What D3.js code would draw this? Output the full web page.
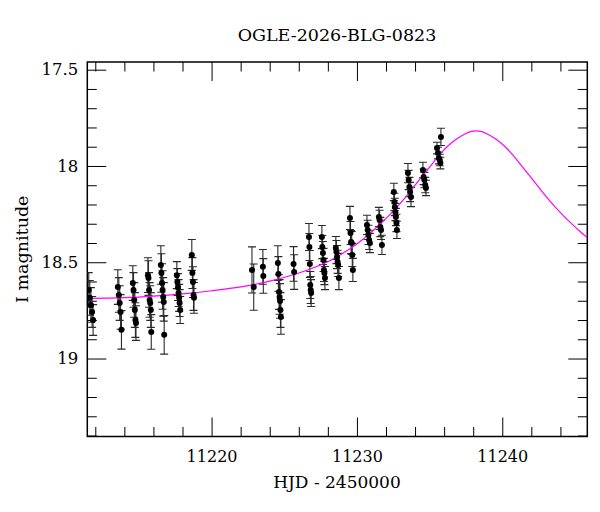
<!DOCTYPE html>
<html lang="en">
<head>
    <meta charset="UTF-8">
    <title>OGLE-2026-BLG-0823</title>
    <script src="https://d3js.org/d3.v7.min.js"></script>
    <style>
        body {
            margin: 0;
            padding: 0;
            background: #fff;
        }
        text {
            font-family: "DejaVu Serif", serif;
            fill: #000;
        }
    </style>
</head>
<body>
    <svg width="600" height="512"></svg>

    <script>
        // observations: HJD - 2450000, I magnitude, error
        const hjd = [
            11211.55, 11211.62, 11211.70, 11211.78, 11211.85,
            11213.55, 11213.62, 11213.68, 11213.74, 11213.80,
            11214.58, 11214.63, 11214.68, 11214.72, 11214.76, 11214.80,
            11215.62, 11215.66, 11215.70, 11215.74, 11215.78, 11215.82, 11215.85,
            11216.51, 11216.55, 11216.59, 11216.63, 11216.67, 11216.71, 11216.74,
            11217.61, 11217.65, 11217.69, 11217.73, 11217.77, 11217.80, 11217.84,
            11218.64, 11218.68, 11218.72, 11218.76, 11218.79,
            11222.78, 11222.90,
            11223.53, 11223.56,
            11224.56, 11224.60, 11224.64, 11224.68, 11224.71, 11224.74, 11224.77,
            11225.64, 11225.68,
            11226.70, 11226.73, 11226.76, 11226.79, 11226.82, 11226.85,
            11227.59, 11227.62, 11227.66, 11227.70, 11227.73, 11227.76, 11227.80,
            11228.55, 11228.59, 11228.63, 11228.67, 11228.71, 11228.76,
            11229.52, 11229.56, 11229.60, 11229.64, 11229.68, 11229.72,
            11230.69, 11230.74, 11230.79, 11230.84, 11230.89,
            11231.51, 11231.56, 11231.61, 11231.66, 11231.72,
            11232.54, 11232.58, 11232.61, 11232.65, 11232.68, 11232.72, 11232.75,
            11233.51, 11233.56, 11233.61, 11233.66, 11233.72,
            11234.54, 11234.59, 11234.64, 11234.70, 11234.75,
            11235.78, 11235.51, 11235.58, 11235.64, 11235.70, 11235.74
        ];
        const mag = [
            18.644, 18.685, 18.722, 18.758, 18.800,
            18.629, 18.670, 18.712, 18.758, 18.851,
            18.608, 18.644, 18.696, 18.748, 18.800, 18.816,
            18.567, 18.582, 18.644, 18.696, 18.712, 18.748, 18.862,
            18.514, 18.556, 18.608, 18.644, 18.680, 18.706, 18.877,
            18.567, 18.603, 18.629, 18.660, 18.685, 18.712, 18.748,
            18.462, 18.556, 18.603, 18.670, 18.685,
            18.540, 18.629,
            18.524, 18.571,
            18.504, 18.561, 18.655, 18.680, 18.701, 18.748, 18.784,
            18.509, 18.551,
            18.369, 18.421, 18.509, 18.618, 18.644, 18.660,
            18.369, 18.421, 18.452, 18.488, 18.540, 18.556, 18.582,
            18.426, 18.447, 18.473, 18.498, 18.514, 18.582,
            18.270, 18.348, 18.395, 18.400, 18.462, 18.540,
            18.306, 18.332, 18.358, 18.384, 18.400,
            18.265, 18.280, 18.317, 18.332, 18.410,
            18.135, 18.187, 18.213, 18.239, 18.265, 18.296, 18.332,
            18.037, 18.073, 18.109, 18.135, 18.161,
            18.021, 18.057, 18.073, 18.099, 18.114,
            17.849, 17.907, 17.933, 17.959, 17.969, 17.985
        ];
        const err = [
            0.09, 0.09, 0.09, 0.08, 0.08,
            0.09, 0.09, 0.09, 0.09, 0.10,
            0.09, 0.09, 0.09, 0.09, 0.09, 0.09,
            0.09, 0.09, 0.09, 0.09, 0.09, 0.09, 0.09,
            0.10, 0.10, 0.10, 0.10, 0.10, 0.10, 0.10,
            0.07, 0.07, 0.07, 0.07, 0.07, 0.07, 0.07,
            0.08, 0.08, 0.08, 0.08, 0.08,
            0.12, 0.12,
            0.09, 0.09,
            0.09, 0.09, 0.09, 0.09, 0.09, 0.09, 0.09,
            0.09, 0.09,
            0.07, 0.07, 0.07, 0.07, 0.07, 0.07,
            0.06, 0.06, 0.06, 0.06, 0.06, 0.06, 0.06,
            0.06, 0.06, 0.06, 0.06, 0.06, 0.06,
            0.06, 0.06, 0.06, 0.06, 0.06, 0.06,
            0.05, 0.05, 0.05, 0.05, 0.05,
            0.05, 0.05, 0.05, 0.05, 0.05,
            0.045, 0.045, 0.045, 0.045, 0.045, 0.045, 0.045,
            0.05, 0.05, 0.05, 0.05, 0.05,
            0.04, 0.04, 0.04, 0.04, 0.04,
            0.045, 0.03, 0.03, 0.03, 0.03, 0.03
        ];

        // model curve
        const modelT = [11211.45, 11214, 11216, 11218, 11220, 11222, 11224, 11226, 11228, 11229,
            11230, 11230.55, 11231.05, 11231.6, 11232.2, 11232.8, 11233.35, 11233.9, 11234.5,
            11235.1, 11235.65, 11236.2, 11236.8, 11237.4, 11237.8, 11238.2, 11238.6, 11239,
            11239.6, 11240.2, 11240.75, 11241.3, 11241.9, 11242.5, 11243.05, 11243.6, 11244.2,
            11244.8, 11245.35, 11245.85];
        const modelMag = [18.688, 18.684, 18.676, 18.664, 18.648, 18.628, 18.598, 18.556, 18.497, 18.455,
            18.405, 18.372, 18.340, 18.302, 18.258, 18.210, 18.162, 18.110, 18.053,
            17.997, 17.945, 17.900, 17.862, 17.835, 17.822, 17.818, 17.822, 17.835,
            17.862, 17.900, 17.945, 17.997, 18.053, 18.110, 18.162, 18.210, 18.258,
            18.302, 18.340, 18.372];

        const xMajor = [11220, 11230, 11240];
        const yMajor = [17.5, 18, 18.5, 19];

        const pL = 87.3, pR = 587.3, pT = 62, pB = 436.5;

        const svg = d3.select("svg");

        const x = d3.scaleLinear().domain([11211.45, 11245.85]).range([pL, pR]);
        const y = d3.scaleLinear().domain([17.46, 19.405]).range([pT, pB]);

        svg.append("defs").append("clipPath").attr("id", "plot")
            .append("rect")
            .attr("x", pL).attr("y", pT)
            .attr("width", pR - pL).attr("height", pB - pT);

        // ticks on all four sides, pointing inward
        const xMinor = d3.range(11212, 11246, 2).filter(d => !xMajor.includes(d));
        const yMinor = d3.range(17.5, 19.41, 0.1).map(d => +d.toFixed(1)).filter(d => !yMajor.includes(d));

        function drawAxis(a, values, len, labels) {
            const g = svg.append("g")
                .attr("transform", a.t)
                .call(a.gen(a.scale).tickValues(values).tickSize(-len).tickFormat(labels ? d3.format("") : () => ""));
            g.select(".domain").remove();
            g.selectAll(".tick line").attr("stroke", "#000").attr("stroke-width", 1);
            g.attr("font-family", null).attr("font-size", null);
            if (labels && a.side === "bottom") {
                g.selectAll(".tick text").attr("y", 14).attr("font-size", 16);
            }
            if (labels && a.side === "left") {
                g.selectAll(".tick text").attr("x", -9).attr("font-size", 16.5);
            }
        }

        const axes = [
            { side: "bottom", gen: d3.axisBottom, scale: x, t: `translate(0,${pB})`, major: xMajor, minor: xMinor },
            { side: "top", gen: d3.axisTop, scale: x, t: `translate(0,${pT})`, major: xMajor, minor: xMinor },
            { side: "left", gen: d3.axisLeft, scale: y, t: `translate(${pL},0)`, major: yMajor, minor: yMinor },
            { side: "right", gen: d3.axisRight, scale: y, t: `translate(${pR},0)`, major: yMajor, minor: yMinor }
        ];
        axes.forEach(a => {
            const lab = a.side === "bottom" || a.side === "left";
            drawAxis(a, a.minor, 9.5, false);
            drawAxis(a, a.major, 19, lab);
        });

        // frame
        svg.append("rect")
            .attr("x", pL).attr("y", pT)
            .attr("width", pR - pL).attr("height", pB - pT)
            .attr("fill", "none").attr("stroke", "#000").attr("stroke-width", 1.5);

        const pts = hjd.map((t, i) => ({ t: t, m: mag[i], e: err[i] }));

        const plot = svg.append("g").attr("clip-path", "url(#plot)");

        // error bars
        const eb = plot.append("g").attr("stroke", "#2a2a2a").attr("stroke-width", 1.1);
        eb.selectAll("line.bar").data(pts).enter().append("line")
            .attr("class", "bar")
            .attr("x1", d => x(d.t)).attr("x2", d => x(d.t))
            .attr("y1", d => y(d.m - d.e)).attr("y2", d => y(d.m + d.e));
        ["hi", "lo"].forEach(k => {
            eb.selectAll("line.cap" + k).data(pts).enter().append("line")
                .attr("class", "cap" + k)
                .attr("x1", d => x(d.t) - 4).attr("x2", d => x(d.t) + 4)
                .attr("y1", d => y(k === "hi" ? d.m - d.e : d.m + d.e))
                .attr("y2", d => y(k === "hi" ? d.m - d.e : d.m + d.e));
        });

        // model
        const model = modelT.map((t, i) => [t, modelMag[i]]);
        plot.append("path")
            .datum(model)
            .attr("fill", "none")
            .attr("stroke", "#ff00ff")
            .attr("stroke-width", 1.2)
            .attr("d", d3.line().x(d => x(d[0])).y(d => y(d[1])).curve(d3.curveCatmullRom.alpha(0.5)));

        // points
        plot.append("g").selectAll("circle").data(pts).enter().append("circle")
            .attr("cx", d => x(d.t)).attr("cy", d => y(d.m))
            .attr("r", 3).attr("fill", "#000");

        // titles
        svg.append("text")
            .attr("x", 337).attr("y", 41)
            .attr("text-anchor", "middle")
            .attr("font-size", 17.5)
            .text("OGLE-2026-BLG-0823");

        svg.append("text")
            .attr("x", 337).attr("y", 488)
            .attr("text-anchor", "middle")
            .attr("font-size", 17)
            .text("HJD - 2450000");

        svg.append("text")
            .attr("transform", `translate(28,${(pT + pB) / 2}) rotate(-90)`)
            .attr("text-anchor", "middle")
            .attr("font-size", 17.5)
            .text("I magnitude");
    </script>
</body>
</html>
